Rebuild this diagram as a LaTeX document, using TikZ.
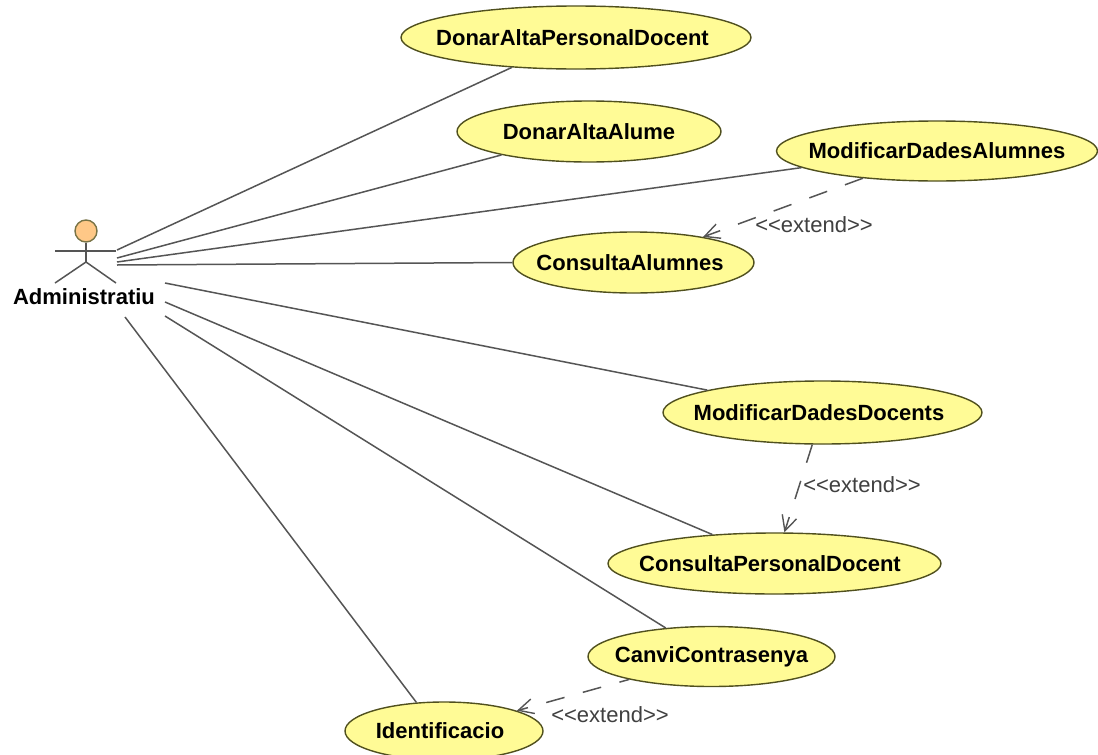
\documentclass[tikz,border=0pt]{standalone}
\usepackage{fontspec}
\setmainfont{Liberation Sans}
\usetikzlibrary{arrows.meta,shapes.geometric}
\definecolor{ucfill}{RGB}{255,251,150}
\definecolor{ucline}{RGB}{80,80,30}
\definecolor{conn}{RGB}{85,85,85}
\definecolor{headfill}{RGB}{255,200,135}
\definecolor{headline}{RGB}{120,115,70}
\newcommand{\uclabel}[2]{\makebox[0pt][c]{#2\hspace{#1pt}}}
\tikzset{
  usecase/.style={ellipse,draw=ucline,fill=ucfill,line width=1.4pt,inner sep=0pt,font=\fontsize{22}{24}\selectfont\bfseries,text=black},
  assoc/.style={draw=conn,line width=1.5pt},
  extendline/.style={draw=conn,line width=1.5pt,dash pattern=on 19pt off 19pt,-{Straight Barb[length=15pt,width=15pt,line width=1.4pt]}},
  stereo/.style={font=\fontsize{22}{24}\selectfont,text=black!75,inner sep=0pt},
  actorline/.style={draw=conn,line width=1.5pt}
}
\begin{document}
\begin{tikzpicture}[x=1pt,y=-1pt]
\useasboundingbox (0,0) rectangle (1098,755);
\clip (0,0) rectangle (1098,755);
\fill[white] (0,0) rectangle (1098,755);
% use cases
\node[usecase,minimum width=350pt,minimum height=63pt] (dapd) at (576,37.5) {\uclabel{7}{DonarAltaPersonalDocent}};
\node[usecase,minimum width=264pt,minimum height=61pt] (daa) at (589,131.5) {\uclabel{0}{DonarAltaAlume}};
\node[usecase,minimum width=321pt,minimum height=60pt] (mda) at (937,151) {\uclabel{0}{ModificarDadesAlumnes}};
\node[usecase,minimum width=241pt,minimum height=61pt] (ca) at (633.5,262.5) {\uclabel{7}{ConsultaAlumnes}};
\node[usecase,minimum width=319pt,minimum height=63pt] (mdd) at (822.5,412.5) {\uclabel{7}{ModificarDadesDocents}};
\node[usecase,minimum width=333pt,minimum height=61pt] (cpd) at (774.5,563.5) {\uclabel{9}{ConsultaPersonalDocent}};
\node[usecase,minimum width=247pt,minimum height=60pt] (cc) at (711.5,656.5) {\uclabel{0}{CanviContrasenya}};
\node[usecase,minimum width=198pt,minimum height=58pt] (id) at (444,731) {\uclabel{8}{Identificacio}};
% actor
\node[circle,draw=headline,fill=headfill,line width=1.4pt,minimum size=22pt,inner sep=0pt] (head) at (86,231) {};
\coordinate (hip) at (86,262);
\coordinate (armL) at (55,251);
\coordinate (armR) at (116,251);
\coordinate (legL) at (55,283);
\coordinate (legR) at (116,283);
\draw[actorline] (head) -- (hip);
\draw[actorline] (armL) -- (armR);
\draw[actorline] (legL) -- (hip) -- (legR);
\node[font=\fontsize{22}{24}\selectfont\bfseries,inner sep=0pt] (actor) at (84,297) {Administratiu};
% free ends near the actor
\coordinate (a1) at (117,250);
\coordinate (a2) at (117,258);
\coordinate (a3) at (117,262);
\coordinate (a4) at (117,265);
\coordinate (a5) at (165,283);
\coordinate (a6) at (165,302);
\coordinate (a7) at (165,316);
\coordinate (a8) at (125,317);
% associations
\draw[assoc] (a1) -- (dapd.205.8);
\draw[assoc] (a2) -- (daa.195.4);
\draw[assoc] (a3) -- (mda.187.9);
\draw[assoc] (a4) -- (ca.west);
\draw[assoc] (a5) -- (mdd.169.1);
\draw[assoc] (a6) -- (cpd.155.1);
\draw[assoc] (a7) -- (cc);
\draw[assoc] (a8) -- (id.134);
% extends
\draw[extendline] (mda) -- (ca);
\draw[extendline] (mdd) -- (cpd);
\draw[extendline,dash phase=9pt] (cc) -- (id);
\node[stereo] (e1) at (814,225) {<{}<extend>{}>};
\node[stereo] (e2) at (862,485) {<{}<extend>{}>};
\node[stereo] (e3) at (610,715) {<{}<extend>{}>};
\end{tikzpicture}
\end{document}
